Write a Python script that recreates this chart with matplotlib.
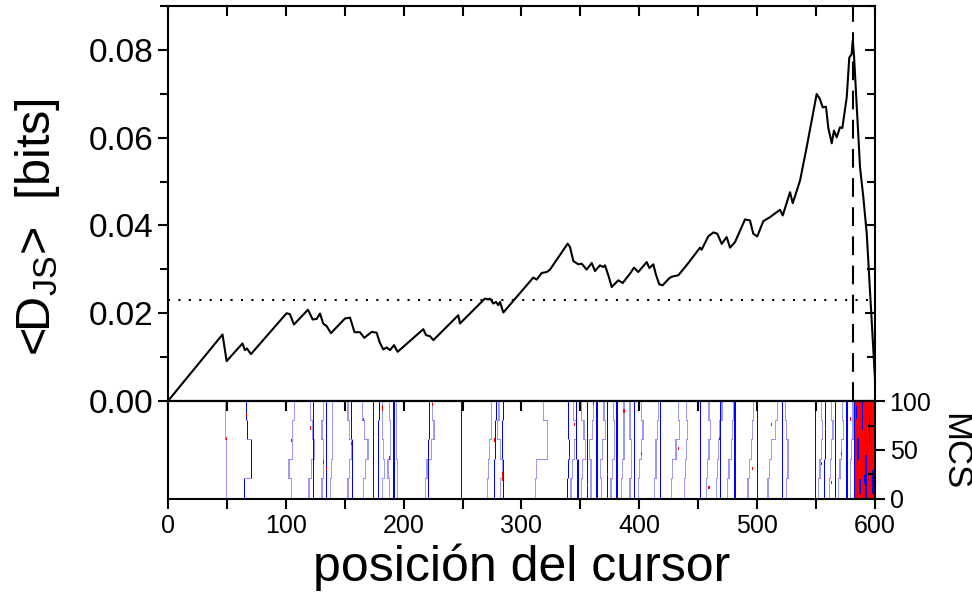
import matplotlib
matplotlib.use("Agg")
import matplotlib.pyplot as plt
import numpy as np
from matplotlib.colors import ListedColormap
from matplotlib.ticker import MultipleLocator

plt.rcParams['font.family'] = ['Liberation Sans', 'DejaVu Sans']
plt.rcParams['mathtext.fontset'] = 'custom'
plt.rcParams['mathtext.rm'] = 'Liberation Sans'
plt.rcParams['mathtext.it'] = 'Liberation Sans'

# mean Jensen-Shannon divergence vs cursor position
pos = [0, 46.3, 49.8, 63.2, 65.3, 67.0, 70.4, 100.7, 103.5, 106.9, 118.8, 122.8,
       126.2, 129.0, 131.8, 134.7, 138.3, 150.2, 154.5, 158.3, 162.9, 166.6, 172.9,
       177.1, 179.5, 182.7, 185.6, 188.4, 191.8, 194.9, 216.7, 219.0, 222.3, 225.2,
       246.4, 247.8, 269.0, 271.8, 273.3, 276.1, 278.4, 280.3, 281.8, 284.6, 310.0,
       312.9, 317.1, 321.4, 324.2, 339.2, 341.2, 344.0, 348.2, 351.1, 355.3, 359.6,
       362.4, 366.6, 369.4, 370.9, 373.7, 376.6, 382.2, 385.9, 392.1, 395.5, 399.1,
       406.3, 408.5, 411.9, 414.1, 416.9, 419.8, 426.0, 428.8, 433.1, 441.6, 451.5,
       452.9, 458.5, 462.8, 466.2, 469.9, 474.1, 477.0, 481.2, 489.7, 493.9, 496.7,
       500.1, 505.2, 510.9, 519.4, 521.7, 527.9, 530.2, 536.4, 542.0, 550.5, 553.3,
       555.6, 558.4, 560.4, 563.3, 565.2, 567.5, 570.3, 572.3, 576.0, 578.2, 580.2,
       581.1, 582.2, 587.3, 590.1, 593.0, 600.0]
djs = [0, 0.01516, 0.00909, 0.01312, 0.01159, 0.01198, 0.01068, 0.0200, 0.01977,
       0.01743, 0.0208, 0.01857, 0.01871, 0.01993, 0.01762, 0.01705, 0.01546, 0.0188,
       0.0190, 0.01568, 0.01568, 0.01439, 0.01575, 0.01557, 0.01348, 0.01175, 0.01221,
       0.01159, 0.01273, 0.01121, 0.01637, 0.0150, 0.01477, 0.01387, 0.01955, 0.01766,
       0.02334, 0.02312, 0.02334, 0.02221, 0.02257, 0.02182, 0.02257, 0.02016, 0.02812,
       0.02766, 0.02916, 0.02939, 0.02994, 0.03585, 0.03507, 0.03189, 0.03114, 0.0313,
       0.02994, 0.03144, 0.02962, 0.03091, 0.03053, 0.03091, 0.02864, 0.02598, 0.0275,
       0.02689, 0.02903, 0.03039, 0.02939, 0.03166, 0.0303, 0.03114, 0.0288, 0.02659,
       0.02637, 0.02812, 0.02841, 0.02864, 0.03144, 0.03494, 0.03448, 0.0375, 0.03841,
       0.03812, 0.0358, 0.03735, 0.03494, 0.03621, 0.04137, 0.04114, 0.03812, 0.0375,
       0.04098, 0.04189, 0.04357, 0.04228, 0.04757, 0.04507, 0.05023, 0.0578, 0.06994,
       0.0688, 0.0669, 0.06705, 0.06221, 0.05871, 0.0616, 0.06007, 0.06235, 0.06221,
       0.06917, 0.07826, 0.07903, 0.08205, 0.07865, 0.05326, 0.04644, 0.03812, 0.0050]

threshold = 0.023
best_pos = 581

# MCS traces: colour, x position for MCS blocks 0-19, 20-39, 40-59, 60-79, 80-99
traces = [
    ('l', [49, 49, 49, 48, 48]), ('b', [64, 70, 70, 67, 66]),
    ('l', [104, 102, 105, 105, 107]), ('l', [119, 121, 124, 122, 120]),
    ('b', [123, 123, 123, 123, 123]), ('l', [130, 131, 131, 130, 131]),
    ('b', [134, 134, 134, 134, 134]), ('l', [137, 138, 139, 139, 139]),
    ('l', [152, 153, 155, 153, 152]), ('b', [156, 156, 156, 155, 155]),
    ('l', [165, 167, 169, 166, 164]), ('b', [174, 174, 174, 174, 174]),
    ('b', [178, 178, 178, 178, 179]), ('l', [181, 183, 182, 181, 181]),
    ('l', [187, 186, 188, 188, 187]), ('b', [191, 191, 191, 191, 191]),
    ('l', [194, 194, 193, 193, 193]), ('l', [218, 219, 223, 225, 224]),
    ('b', [220, 220, 220, 221, 221]), ('b', [248, 248, 248, 248, 248]),
    ('l', [270, 271, 272, 274, 274]), ('b', [276, 276, 277, 277, 278]),
    ('l', [281, 283, 281, 279, 280]), ('b', [284, 284, 283, 283, 284]),
    ('l', [311, 312, 321, 321, 318]), ('b', [338, 339, 340, 339, 339]),
    ('l', [341, 342, 344, 346, 343]), ('b', [347, 347, 346, 346, 346]),
    ('l', [350, 351, 353, 352, 350]), ('b', [355, 355, 355, 355, 355]),
    ('l', [358, 358, 357, 359, 360]), ('b', [363, 363, 363, 363, 363]),
    ('l', [367, 366, 368, 370, 369]), ('b', [372, 372, 372, 372, 372]),
    ('l', [375, 376, 378, 378, 377]), ('b', [380, 380, 380, 380, 380]),
    ('l', [384, 385, 386, 386, 386]), ('l', [391, 392, 392, 391, 391]),
    ('b', [395, 395, 395, 395, 395]), ('l', [398, 399, 401, 402, 401]),
    ('l', [412, 413, 413, 414, 415]), ('b', [417, 417, 417, 417, 417]),
    ('l', [426, 427, 430, 433, 432]), ('l', [437, 438, 439, 440, 439]),
    ('b', [451, 451, 451, 451, 451]), ('l', [456, 457, 458, 459, 458]),
    ('l', [464, 465, 466, 467, 469]), ('b', [468, 468, 468, 468, 468]),
    ('l', [474, 475, 477, 478, 479]), ('b', [480, 480, 480, 480, 480]),
    ('l', [491, 492, 494, 495, 496]), ('b', [499, 499, 499, 499, 499]),
    ('l', [508, 509, 511, 514, 516]), ('b', [520, 520, 520, 520, 520]),
    ('l', [524, 525, 525, 524, 523]), ('b', [548, 548, 548, 548, 548]),
    ('l', [551, 552, 553, 554, 553]), ('b', [556, 556, 557, 557, 557]),
    ('l', [560, 561, 562, 563, 562]), ('b', [565, 565, 565, 565, 565]),
    ('l', [568, 569, 570, 572, 571]), ('b', [575, 575, 575, 575, 575]),
    ('l', [578, 578, 579, 580, 580]),
]
# red spots on traces: (x, mcs_from, mcs_to)
red_spots = [(49, 60, 63), (66, 85, 88), (104, 58, 61), (120, 70, 74), (131, 36, 40),
             (134, 30, 33), (155, 55, 58), (165, 80, 83), (181, 90, 96), (187, 40, 44),
             (224, 95, 98), (276, 58, 62), (283, 18, 28), (340, 40, 44), (344, 75, 78),
             (355, 12, 16), (360, 96, 99), (372, 25, 27), (386, 88, 92), (401, 45, 48),
             (432, 50, 53), (458, 10, 13), (467, 60, 63), (495, 30, 33), (511, 75, 78),
             (553, 35, 38), (557, 70, 73), (562, 15, 18), (570, 45, 48), (578, 80, 84)]
# dense region near the end of the text: red background with blue patches
dense_x = (581, 600)
blue_patches = [(581, 582, 0, 100), (584, 586, 40, 62), (588, 589, 70, 100),
                (591, 592, 0, 45), (594, 595, 55, 85), (597, 598, 5, 30),
                (586, 587, 5, 20), (583, 584, 82, 95), (590, 591, 15, 25)]

# build the MCS map
mcs = np.zeros((100, 600), dtype=int)
code = {'l': 1, 'b': 2}
for c, xs in traces:
    for k, x in enumerate(xs):
        mcs[k * 20:(k + 1) * 20, x] = code[c]
        if k > 0 and xs[k - 1] != x:
            a, b = sorted((xs[k - 1], x))
            mcs[k * 20, a:b + 1] = 4
for x, m0, m1 in red_spots:
    mcs[m0:m1, x] = 3
mcs[:, dense_x[0]:dense_x[1]] = 3
for x0, x1, m0, m1 in blue_patches:
    mcs[m0:m1, x0:x1] = 2

fig = plt.figure(figsize=(9.72, 5.98), dpi=100)
ax = fig.add_axes([0.1728, 0.3294, 0.7274, 0.6606])
ax2 = fig.add_axes([0.1728, 0.1656, 0.7274, 0.1638])

ax.plot(pos, djs, color='black', lw=1.5)
ax.axhline(threshold, color='black', lw=1.5, ls=(0, (1, 4)))
ax.axvline(best_pos, color='black', lw=1.5, ls=(0, (9, 5)))
ax.set_xlim(0, 600)
ax.set_ylim(0, 0.09)
ax.yaxis.set_major_locator(MultipleLocator(0.02))
ax.yaxis.set_minor_locator(MultipleLocator(0.01))
ax.xaxis.set_major_locator(MultipleLocator(50))
ax.yaxis.set_major_formatter(matplotlib.ticker.FormatStrFormatter('%.2f'))
ax.tick_params(axis='x', which='both', top=True, bottom=False, labelbottom=False,
               direction='in', length=7, width=1.5)
ax.tick_params(axis='y', which='both', left=True, right=True, direction='out',
               length=7, width=1.5, labelsize=24)
ax.tick_params(axis='y', which='minor', length=6)
for t in ax.yaxis.get_major_ticks() + ax.yaxis.get_minor_ticks():
    t.tick2line.set_marker(matplotlib.lines.TICKLEFT)
for s in ax.spines.values():
    s.set_linewidth(1.5)
ax.set_ylabel(r'<D$_{\mathrm{JS}}$>  [bits]', fontsize=35)
ax.yaxis.set_label_coords(-0.15, 0.44)

cmap = ListedColormap(['white', '#9b9bff', '#0000ff', '#ff0000', '#b080f0'])
ax2.imshow(mcs, cmap=cmap, vmin=-0.5, vmax=4.5, origin='lower', aspect='auto',
           extent=(0, 600, 0, 100), interpolation='nearest')
ax2.set_xlim(0, 600)
ax2.set_ylim(0, 100)
ax2.xaxis.set_major_locator(MultipleLocator(100))
ax2.xaxis.set_minor_locator(MultipleLocator(50))
ax2.yaxis.set_major_locator(MultipleLocator(50))
ax2.yaxis.set_minor_locator(MultipleLocator(25))
ax2.tick_params(axis='x', which='both', bottom=True, top=False, direction='out',
                length=7, width=1.5, labelsize=18)
ax2.tick_params(axis='y', which='both', left=False, right=True, labelleft=False,
                labelright=True, direction='out', length=7, width=1.5, labelsize=18)
ax2.tick_params(axis='y', which='minor', direction='in', length=5)
sec = ax2.secondary_xaxis('top')
sec.xaxis.set_major_locator(MultipleLocator(50))
sec.tick_params(direction='in', length=7, width=1.5, labeltop=False)
sec.spines['top'].set_linewidth(1.5)
for s in ax2.spines.values():
    s.set_linewidth(1.5)
ax2.set_xlabel('posición del cursor', fontsize=36)
ax2.xaxis.set_label_coords(0.5, -0.45)
fig.text(955 / 972, 1 - 452 / 598, 'MCS', fontsize=25, rotation=270,
         ha='center', va='center')

fig.savefig('out.png', dpi=100)
